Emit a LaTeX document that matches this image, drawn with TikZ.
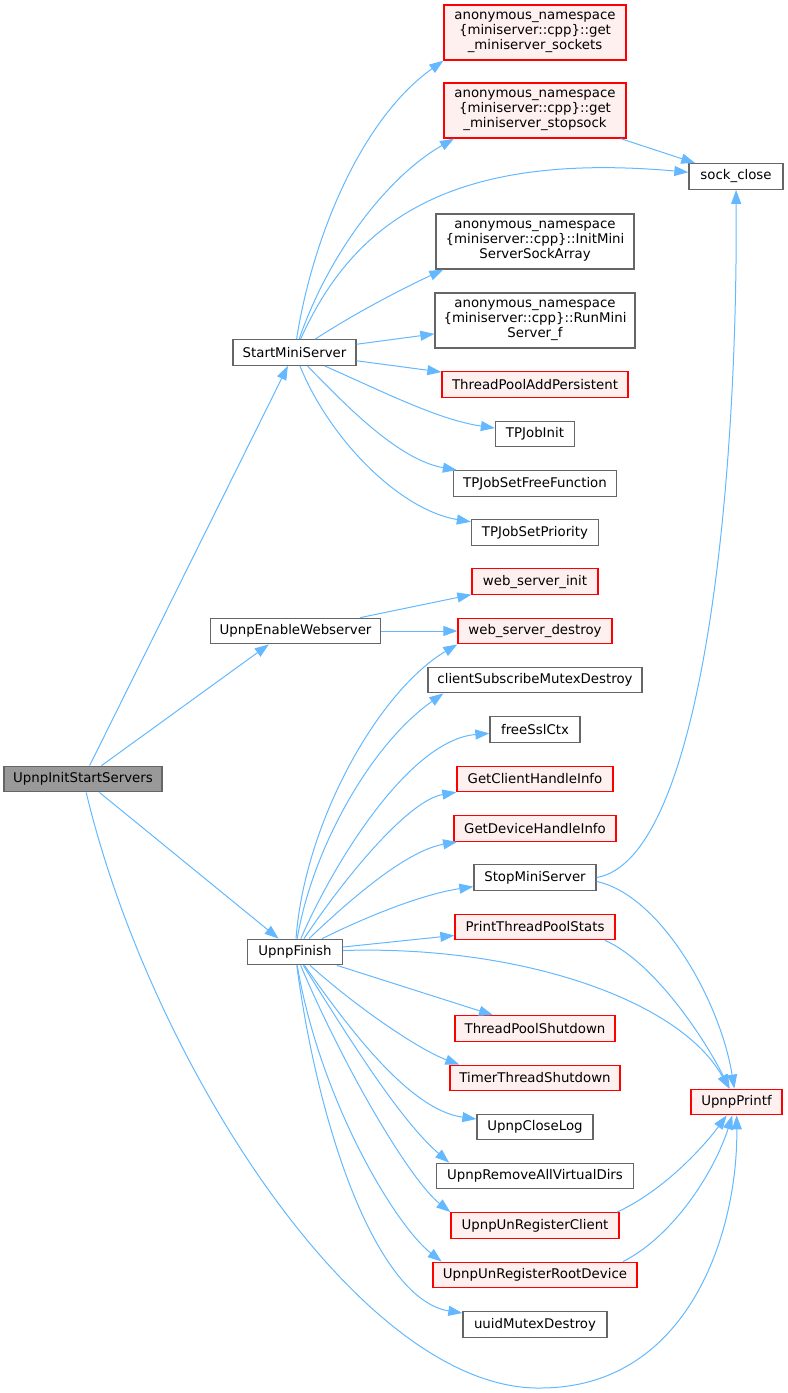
\documentclass[tikz,border=0pt]{standalone}
\usepackage{fontspec}
\setmainfont{DejaVu Sans}
\usepackage{xcolor}
\usetikzlibrary{arrows.meta,positioning,calc}

\definecolor{edgeblue}{HTML}{63B8FF}
\definecolor{nodered}{HTML}{FFF0F0}

\begin{document}
\begin{tikzpicture}[x=0.75pt, y=-0.75pt,
    fn/.style={draw=black!60, fill=white, line width=1pt, inner sep=0pt,
        minimum height=19.1pt, align=center, font=\fontsize{10}{11.25}\selectfont},
    fnred/.style={fn, draw=red, fill=nodered},
    fnroot/.style={fn, fill=black!40},
    tall/.style={minimum height=41.25pt},
    boxw/.style={minimum width=#1*0.75pt},
    call/.style={edgeblue, line width=0.75pt, -{Triangle[length=10.5pt,width=7.5pt]}}]

    \useasboundingbox (0,0) rectangle (788,1393);

    % Root and its direct callees
    \node[fnroot, boxw=158] (root) at (83,779) {UpnpInitStartServers};
    \node[fn, boxw=123] (sms) at (294.5,352.5) {StartMiniServer};
    \node[fn, boxw=170] (uew) at (295.5,631) {UpnpEnableWebserver};
    \node[fn, boxw=95] (fin) at (295,952) {UpnpFinish};

    % Multi-line callees of StartMiniServer
    \node[fnred, tall, boxw=182] (gms) at (535,32.5)
        {anonymous\_namespace\\\{miniserver::cpp\}::get\\\_miniserver\_sockets};
    \node[fnred, tall, boxw=182] (gmst) at (535,110.5)
        {anonymous\_namespace\\\{miniserver::cpp\}::get\\\_miniserver\_stopsock};
    \node[fn, tall, boxw=198] (imssa) at (535,241.5)
        {anonymous\_namespace\\\{miniserver::cpp\}::InitMini\\ServerSockArray};
    \node[fn, tall, boxw=200] (rms) at (535,320.5)
        {anonymous\_namespace\\\{miniserver::cpp\}::RunMini\\Server\_f};

    % Leaf column on the far right
    \node[fn, boxw=94] (sock) at (736,176.5) {sock\_close};
    \node[fnred, boxw=91] (upf) at (736.5,1102) {UpnpPrintf};

    % Single-line callees, documented
    \foreach \n/\y/\w/\t in {
        tpji/434/79/TPJobInit,
        tpsff/483.5/163/TPJobSetFreeFunction,
        tpsp/532.5/127/TPJobSetPriority,
        csmd/680/214/clientSubscribeMutexDestroy,
        fsc/729.5/90/freeSslCtx,
        stop/877.5/122/StopMiniServer,
        ucl/1127/116/UpnpCloseLog,
        uravd/1176/197/UpnpRemoveAllVirtualDirs,
        umd/1324.5/144/uuidMutexDestroy} {
        \node[fn, boxw=\w] (\n) at (535,\y) {\t};
    }

    % Single-line callees, red frame
    \foreach \n/\y/\w/\t in {
        tpap/384.5/186/ThreadPoolAddPersistent,
        wsi/581.5/126/web\_server\_init,
        wsd/631/154/web\_server\_destroy,
        gchi/779/156/GetClientHandleInfo,
        gdhi/828.5/162/GetDeviceHandleInfo,
        ptps/927/160/PrintThreadPoolStats,
        tps/1028.5/160/ThreadPoolShutdown,
        tts/1078/170/TimerThreadShutdown,
        uurc/1225.5/168/UpnpUnRegisterClient,
        uurd/1275/204/UpnpUnRegisterRootDevice} {
        \node[fnred, boxw=\w] (\n) at (535,\y) {\t};
    }

    % Calls from UpnpInitStartServers
    \draw[call] (root) -- (sms);
    \draw[call] (root) -- ([xshift=-20pt]uew.south);
    \draw[call] (root) -- (fin);
    \coordinate (low) at (540,1388);
    \draw[call] (root) .. controls (150,1060) and (360,1390) .. (low)
        .. controls (690,1388) and (738,1230) .. (upf);

    % Calls from StartMiniServer
    \draw[call] (sms) .. controls (312,240) and (360,120) .. (gms.south west);
    \draw[call] (sms) .. controls (330,250) and (390,175) .. ([xshift=8pt]gmst.south west);
    \draw[call] (sms) .. controls (350,230) and (440,150) .. (sock);
    \draw[call] (sms) .. controls (360,310) and (410,285) .. ([xshift=6pt]imssa.south west);
    \draw[call] (sms) -- (rms);
    \draw[call] (sms) -- (tpap);
    \draw[call] (sms) .. controls (390,395) and (440,420) .. (tpji);
    \draw[call] (sms) .. controls (350,410) and (400,460) .. ([xshift=3pt]tpsff.north west);
    \draw[call] (sms) .. controls (330,440) and (400,510) .. (tpsp);
    \draw[call] (gmst) -- (sock);

    % Calls from UpnpEnableWebserver
    \draw[call] (uew) -- (wsi);
    \draw[call] (uew) -- (wsd);

    % Calls from UpnpFinish
    \draw[call] (fin) .. controls (305,820) and (380,690) .. (wsd.south west);
    \draw[call] (fin) .. controls (312,850) and (370,745) .. ([xshift=12pt]csmd.south west);
    \draw[call] (fin) .. controls (335,860) and (410,740) .. (fsc);
    \draw[call] (fin) .. controls (350,870) and (410,800) .. (gchi);
    \draw[call] (fin) .. controls (360,890) and (410,850) .. (gdhi);
    \draw[call] (fin) .. controls (380,910) and (430,893) .. (stop);
    \draw[call] (fin) -- (ptps);
    \draw[call] (fin) .. controls (520,945) and (680,1000) .. (upf);
    \draw[call] (fin) -- (tps);
    \draw[call] (fin) .. controls (360,1010) and (420,1050) .. ([xshift=7.5pt]tts.north west);
    \draw[call] (fin) .. controls (350,1030) and (410,1110) .. (ucl);
    \draw[call] (fin) .. controls (350,1040) and (400,1120) .. ([xshift=10pt]uravd.north west);
    \draw[call] (fin) .. controls (345,1070) and (410,1180) .. (uurc.north west);
    \draw[call] (fin) .. controls (320,1100) and (395,1225) .. ([xshift=7pt]uurd.north west);
    \draw[call] (fin) .. controls (320,1140) and (380,1300) .. (umd);

    % Calls into the leaf column
    \draw[call] (stop.east) .. controls (700,860) and (738,500) .. (sock);
    \draw[call] ([yshift=-3pt]stop.east) .. controls (660,895) and (720,1000) .. (upf);
    \draw[call] ([xshift=-8pt]ptps.south east) .. controls (650,960) and (700,1030) .. (upf);
    \draw[call] ([xshift=-2pt]uurc.north east) .. controls (665,1190) and (705,1145) .. (upf);
    \draw[call] ([xshift=-11pt]uurd.north east) .. controls (675,1235) and (715,1170) .. (upf);

\end{tikzpicture}
\end{document}
